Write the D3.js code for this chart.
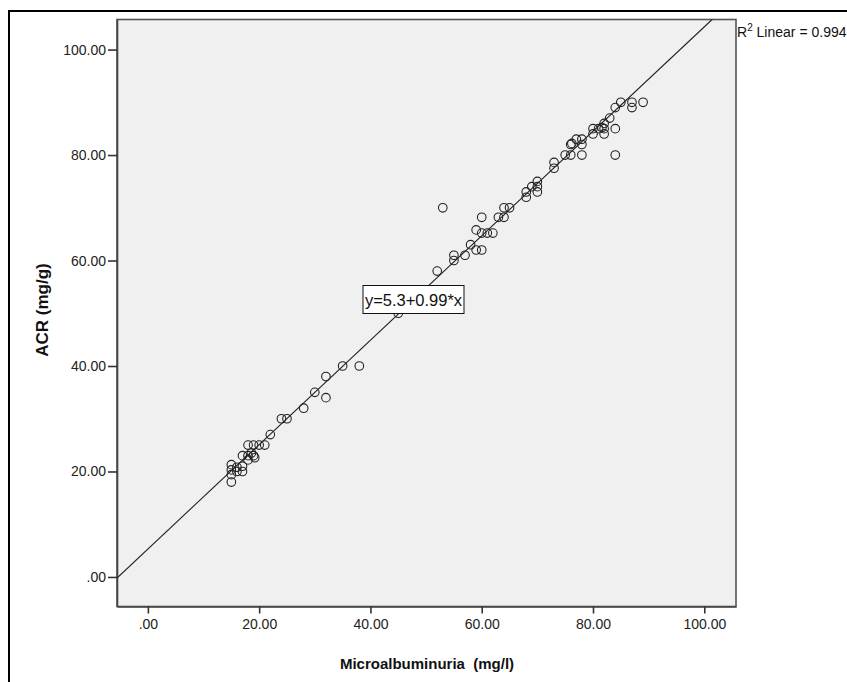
<!DOCTYPE html>
<html>
<head>
<meta charset="utf-8">
<script src="https://cdn.jsdelivr.net/npm/d3@7"></script>
<style>
  html, body { margin: 0; padding: 0; background: #fff; }
  svg { display: block; }
  text { font-family: "Liberation Sans", Arial, sans-serif; }
</style>
</head>
<body>
<svg id="chart" width="847" height="682"></svg>
<script>
// ---- Data ----
const microalbuminuria = [15, 15, 15, 15, 16, 16, 17, 17, 17, 18, 18, 18.6, 19, 19.2, 18, 19, 20, 21,
  22, 24, 25, 28, 30, 32, 32, 35, 38, 45, 52, 53, 55, 55, 57, 58, 59, 60, 59, 60, 61, 62,
  60, 63, 64, 64, 65, 68, 68, 69, 70, 70, 70, 73, 73, 75, 76, 76, 77, 78, 78, 78, 80, 80,
  81, 82, 82, 82, 83, 84, 84, 84, 85, 87, 87, 89, 81.6, 76.2];
const acr = [18, 19.4, 20.3, 21.3, 20, 20.8, 20, 21, 23, 22.2, 23, 23.5, 23, 22.6, 25, 25, 25, 25,
  27, 30, 30, 32, 35, 34, 38, 40, 40, 50, 58, 70, 60, 61, 61, 63, 62, 62, 65.8, 65.2, 65.2, 65.2,
  68.2, 68.2, 68.2, 70, 70, 72, 73, 74, 73, 74, 75, 77.5, 78.6, 80, 80, 82, 83, 82, 83, 80, 85, 84,
  85, 84, 85, 86, 87, 85, 80, 89, 90, 90, 89, 90, 85.2, 82.2];
const xTicks = [0, 20, 40, 60, 80, 100];
const yTicks = [0, 20, 40, 60, 80, 100];
const fitIntercept = 5.3;
const fitSlope = 0.99;
const rSquared = 0.994;
const xTitle = "Microalbuminuria  (mg/l)";
const yTitle = "ACR (mg/g)";

// ---- Layout ----
const svg = d3.select("#chart");
const L = 117, R = 736, T = 19.5, B = 606.5;
const x = d3.scaleLinear().domain([-5.55, 105.7]).range([L, R]);
const y = d3.scaleLinear().domain([-5.6, 105.7]).range([B, T]);
const fmt = v => v === 0 ? ".00" : d3.format(".2f")(v);

// outer frame
svg.append("rect").attr("x", 9).attr("y", 11).attr("width", 900).attr("height", 800)
  .attr("fill", "none").attr("stroke", "#000").attr("stroke-width", 2);

// plot area
svg.append("rect").attr("x", L).attr("y", T).attr("width", R - L).attr("height", B - T)
  .attr("fill", "#f0f0f0").attr("stroke", "#555").attr("stroke-width", 1.6);

svg.append("clipPath").attr("id", "clip").append("rect")
  .attr("x", L).attr("y", T).attr("width", R - L).attr("height", B - T);

// axes
const xAxis = d3.axisBottom(x).tickValues(xTicks).tickFormat(fmt).tickSize(7).tickSizeOuter(0).tickPadding(6);
const yAxis = d3.axisLeft(y).tickValues(yTicks).tickFormat(fmt).tickSize(9).tickSizeOuter(0).tickPadding(2);

const gx = svg.append("g").attr("transform", `translate(0,${B})`).call(xAxis);
const gy = svg.append("g").attr("transform", `translate(${L},0)`).call(yAxis);
[gx, gy].forEach(g => {
  g.select(".domain").attr("stroke", "#444").attr("stroke-width", 1.6);
  g.selectAll(".tick line").attr("stroke", "#333").attr("stroke-width", 1.6);
  g.selectAll(".tick text").attr("fill", "#222").style("font-size", "14px")
    .style("font-family", "'Liberation Sans', Arial, sans-serif");
});

// regression line
const xEnd = (105.7 - fitIntercept) / fitSlope;
svg.append("line").attr("clip-path", "url(#clip)")
  .attr("x1", x(-5.55)).attr("y1", y(fitIntercept + fitSlope * -5.55))
  .attr("x2", x(xEnd)).attr("y2", y(fitIntercept + fitSlope * xEnd))
  .attr("stroke", "#222").attr("stroke-width", 1.1);

// points
svg.append("g").attr("clip-path", "url(#clip)")
  .selectAll("circle").data(microalbuminuria.map((v, i) => [v, acr[i]]))
  .join("circle")
  .attr("cx", d => x(d[0])).attr("cy", d => y(d[1])).attr("r", 4.3)
  .attr("fill", "none").attr("stroke", "#222").attr("stroke-width", 1.1);

// equation label
const eq = svg.append("g");
eq.append("rect").attr("x", 363).attr("y", 285.5).attr("width", 101).attr("height", 28)
  .attr("fill", "#fff").attr("stroke", "#111").attr("stroke-width", 1);
eq.append("text").attr("x", 413.5).attr("y", 305.5)
  .attr("text-anchor", "middle").style("font-size", "16.5px").attr("fill", "#111")
  .text(`y=${fitIntercept}+${fitSlope}*x`);

// R² label
const r2 = svg.append("text").attr("x", 737).attr("y", 37).style("font-size", "14px").attr("fill", "#111");
r2.append("tspan").text("R");
r2.append("tspan").attr("dy", -6).style("font-size", "10px").text("2");
r2.append("tspan").attr("dy", 6).text(` Linear = ${rSquared}`);

// axis titles
svg.append("text").attr("x", 427).attr("y", 669).attr("text-anchor", "middle")
  .style("font-size", "15px").style("font-weight", "bold").attr("fill", "#111")
  .style("white-space", "pre").text(xTitle);
svg.append("text").attr("transform", "translate(48,310) rotate(-90)").attr("text-anchor", "middle")
  .style("font-size", "17px").style("font-weight", "bold").attr("fill", "#111")
  .text(yTitle);
</script>
</body>
</html>
